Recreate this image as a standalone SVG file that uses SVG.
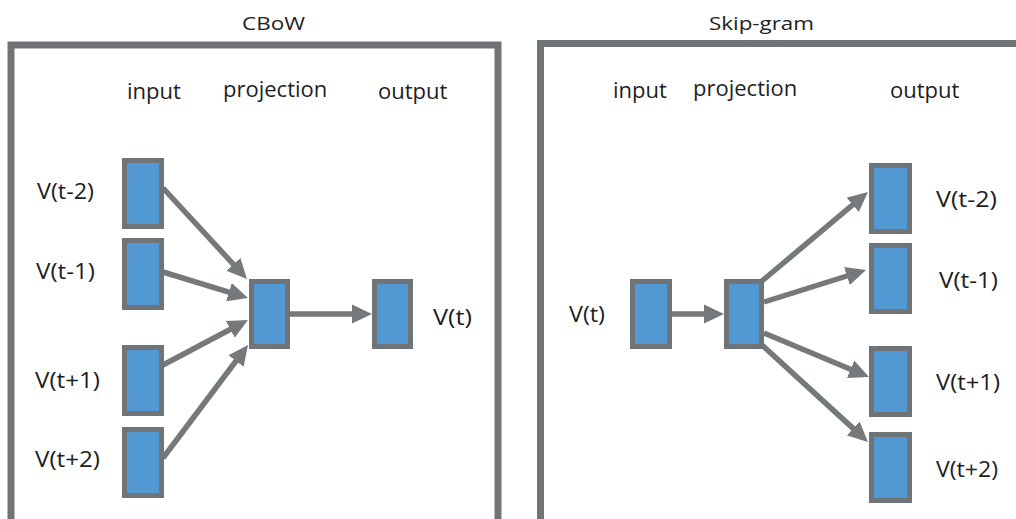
<svg xmlns="http://www.w3.org/2000/svg" width="1016" height="519" viewBox="0 0 1016 519">
  <defs>
    <style>
      .frame { fill: none; stroke: #717477; stroke-width: 7; }
      .box { fill: #5299d3; stroke: #717477; stroke-width: 5; }
      .edge { fill: none; stroke: #76797c; stroke-width: 5.5; marker-end: url(#arrow); }
      .title { font-family: "Open Sans", "Noto Sans", "DejaVu Sans", sans-serif; font-size: 18px; fill: #222; }
      .lbl { font-family: "Open Sans", "Noto Sans", "DejaVu Sans", sans-serif; font-size: 22px; fill: #1e1e1e; }
    </style>
    <marker id="arrow" markerUnits="userSpaceOnUse" viewBox="0 0 20 20" markerWidth="20" markerHeight="20" refX="5" refY="10" orient="auto">
      <path d="M0,0.5 L20,10 L0,19.5 z" fill="#76797c"/>
    </marker>
  </defs>
  <rect width="1016" height="519" fill="#ffffff"/>

  <!-- frames -->
  <g id="frame-cbow">
    <rect class="frame" x="11" y="45" width="487" height="520"/>
    <text class="title" x="242" y="30" textLength="63" lengthAdjust="spacingAndGlyphs">CBoW</text>
    <text class="lbl" x="127" y="99">input</text>
    <text class="lbl" x="223" y="97">projection</text>
    <text class="lbl" x="378" y="99">output</text>
  </g>
  <g id="frame-skipgram">
    <rect class="frame" x="540.5" y="43.5" width="600" height="520"/>
    <text class="title" x="709" y="30" textLength="105" lengthAdjust="spacingAndGlyphs">Skip-gram</text>
    <text class="lbl" x="613" y="98">input</text>
    <text class="lbl" x="693" y="96">projection</text>
    <text class="lbl" x="890" y="98">output</text>
  </g>

  <!-- connectors -->
  <g id="connectors">
    <path class="edge" d="M163,188 L236.8,268"/>
    <path class="edge" d="M163,272 L233.7,293.6"/>
    <path class="edge" d="M163,365 L234.7,327"/>
    <path class="edge" d="M163,458 L239,357"/>
    <path class="edge" d="M290,314 L357,314"/>
    <path class="edge" d="M672,314 L709,314"/>
    <path class="edge" d="M762,281 L856.5,201.6"/>
    <path class="edge" d="M764,302 L851.7,274.5"/>
    <path class="edge" d="M764,333 L855.2,371.2"/>
    <path class="edge" d="M762,345 L856.9,431.9"/>
  </g>

  <!-- CBoW nodes -->
  <g id="cbow-in-t-2">
    <rect class="box" x="124.5" y="160.5" width="37" height="66"/>
    <text class="lbl" x="37" y="199" textLength="57" lengthAdjust="spacingAndGlyphs">V(t-2)</text>
  </g>
  <g id="cbow-in-t-1">
    <rect class="box" x="124.5" y="240.5" width="37" height="67"/>
    <text class="lbl" x="36" y="279" textLength="59" lengthAdjust="spacingAndGlyphs">V(t-1)</text>
  </g>
  <g id="cbow-in-t+1">
    <rect class="box" x="124.5" y="347.5" width="37" height="66"/>
    <text class="lbl" x="35" y="388" textLength="65" lengthAdjust="spacingAndGlyphs">V(t+1)</text>
  </g>
  <g id="cbow-in-t+2">
    <rect class="box" x="124.5" y="429.5" width="37" height="66"/>
    <text class="lbl" x="35" y="467" textLength="65" lengthAdjust="spacingAndGlyphs">V(t+2)</text>
  </g>
  <g id="cbow-projection">
    <rect class="box" x="251.5" y="281.5" width="36" height="65"/>
  </g>
  <g id="cbow-out-t">
    <rect class="box" x="374.5" y="281.5" width="36" height="65"/>
    <text class="lbl" x="433" y="325" textLength="39" lengthAdjust="spacingAndGlyphs">V(t)</text>
  </g>

  <!-- Skip-gram nodes -->
  <g id="sg-in-t">
    <rect class="box" x="632.5" y="281.5" width="37" height="65"/>
    <text class="lbl" x="569" y="322" textLength="36" lengthAdjust="spacingAndGlyphs">V(t)</text>
  </g>
  <g id="sg-projection">
    <rect class="box" x="726.5" y="281.5" width="35" height="65"/>
  </g>
  <g id="sg-out-t-2">
    <rect class="box" x="871.5" y="165.5" width="38" height="66"/>
    <text class="lbl" x="936" y="207" textLength="61" lengthAdjust="spacingAndGlyphs">V(t-2)</text>
  </g>
  <g id="sg-out-t-1">
    <rect class="box" x="871.5" y="245.5" width="38" height="66"/>
    <text class="lbl" x="939" y="288" textLength="59" lengthAdjust="spacingAndGlyphs">V(t-1)</text>
  </g>
  <g id="sg-out-t+1">
    <rect class="box" x="871.5" y="348.5" width="38" height="66"/>
    <text class="lbl" x="936" y="390" textLength="64" lengthAdjust="spacingAndGlyphs">V(t+1)</text>
  </g>
  <g id="sg-out-t+2">
    <rect class="box" x="871.5" y="434.5" width="38" height="66"/>
    <text class="lbl" x="936" y="477" textLength="62" lengthAdjust="spacingAndGlyphs">V(t+2)</text>
  </g>
</svg>
